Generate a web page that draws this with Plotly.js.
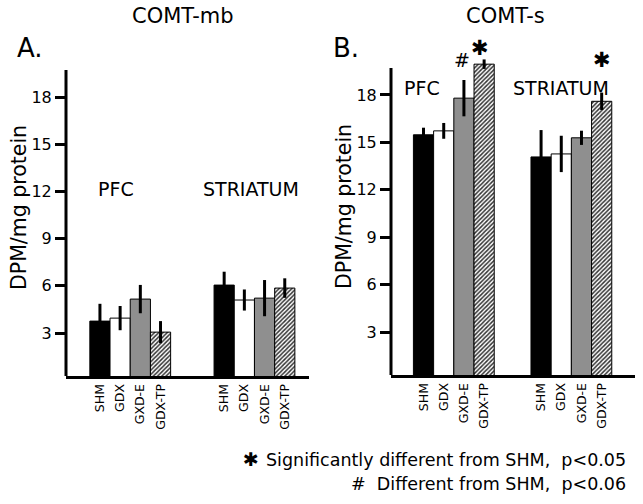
<!DOCTYPE html>
<html>
<head>
<meta charset="utf-8">
<script src="https://cdn.plot.ly/plotly-3.0.1.min.js"></script>
<style>html,body{margin:0;padding:0;background:#fff;}#chart{width:643px;height:504px;}</style>
</head>
<body>
<div id="chart"></div>
<script>
// ---- data ----
var treatments = ['SHM', 'GDX', 'GXD-E', 'GDX-TP'];
var regions = ['PFC', 'STRIATUM'];
var mbPFC = [3.76, 3.95, 5.16, 3.06];
var mbPFCerr = [1.1, 0.77, 0.9, 0.7];
var mbSTR = [6.05, 5.1, 5.22, 5.86];
var mbSTRerr = [0.85, 0.67, 1.15, 0.62];
var sPFC = [15.48, 15.73, 17.8, 19.95];
var sPFCerr = [0.45, 0.5, 1.15, 0.3];
var sSTR = [14.08, 14.27, 15.29, 17.6];
var sSTRerr = [1.7, 1.15, 0.45, 0.55];
var yTicks = [3, 6, 9, 12, 15, 18];

// ---- styles ----
var FONT = 'DejaVu Sans';
var fills = ['#000000', '#ffffff', '#8f8f8f', '#ffffff'];
var W = 643, H = 504;

function panelTraces(pfc, pfcErr, str, strErr, offset, xa, ya) {
  return treatments.map(function (t, i) {
    var m = {color: fills[i], line: {color: '#000', width: 1}};
    if (i === 3) m.pattern = {shape: '/', fgcolor: '#333', bgcolor: '#fff', size: 3, solidity: 0.5};
    return {
      type: 'bar', xaxis: xa, yaxis: ya, name: t,
      x: [i, offset + i], y: [pfc[i], str[i]], width: 1,
      marker: m, hoverinfo: 'skip',
      error_y: {type: 'data', array: [pfcErr[i], strErr[i]], width: 0, thickness: 3, color: '#000'}
    };
  });
}
var offA = 6.15, offB = 5.82;
var data = panelTraces(mbPFC, mbPFCerr, mbSTR, mbSTRerr, offA, 'x', 'y')
  .concat(panelTraces(sPFC, sPFCerr, sSTR, sSTRerr, offB, 'x2', 'y2'));

function tickPos(off) { return treatments.map(function (t, i) { return i; }).concat(treatments.map(function (t, i) { return off + i; })); }
var tickText = treatments.concat(treatments);

function xAxis(domain, range, off, anchor) {
  return {domain: domain, range: range, anchor: anchor, showline: true, linewidth: 3, linecolor: '#000',
    ticks: '', tickmode: 'array', tickvals: tickPos(off), ticktext: tickText, tickangle: -90,
    tickfont: {family: FONT, size: 12.5, color: '#000'}, showgrid: false, zeroline: false, fixedrange: true};
}
function yAxis(domain, range, anchor) {
  return {domain: domain, range: range, anchor: anchor, showline: false, ticks: 'outside', ticklen: 10,
    tickwidth: 3, tickcolor: '#000', tickmode: 'array', tickvals: yTicks,
    tickfont: {family: FONT, size: 16, color: '#000'}, showgrid: false, zeroline: false, fixedrange: true};
}

function ann(text, px, py, size, extra) {
  var a = {text: text, x: px / W, y: 1 - py / H, xref: 'paper', yref: 'paper', showarrow: false,
    xanchor: 'center', yanchor: 'middle', font: {family: FONT, size: size, color: '#000'}};
  for (var k in extra) a[k] = extra[k];
  return a;
}

var STAR = '\u2731';
var annotations = [
  ann('COMT-mb', 183, 16, 21),
  ann('COMT-s', 505, 16, 21),
  ann('A.', 30, 48, 26),
  ann('B.', 346, 48, 26),
  ann(regions[0], 116, 189, 19),
  ann(regions[1], 251, 189, 19),
  ann(regions[0], 422, 88, 19),
  ann(regions[1], 561, 88, 19),
  ann('DPM/mg protein', 19, 208, 20.5, {textangle: -90}),
  ann('DPM/mg protein', 344, 207, 20.5, {textangle: -90}),
  ann('#', 462, 60, 19),
  ann(STAR, 480, 48.5, 21),
  ann(STAR, 602, 60, 21),
  ann(STAR, 251, 459, 19),
  ann('Significantly different from SHM,\u00a0\u00a0p<0.05', 628, 460, 17.5, {xanchor: 'right'}),
  ann('#\u00a0\u00a0Different from SHM,\u00a0\u00a0p<0.06', 628, 484, 17.5, {xanchor: 'right'})
];

var shapes = [
  {type: 'line', xref: 'x domain', yref: 'y', x0: 0, x1: 0, y0: 0.27, y1: 19.72, line: {color: '#000', width: 3}},
  {type: 'line', xref: 'x2 domain', yref: 'y2', x0: 0, x1: 0, y0: 0.28, y1: 19.7, line: {color: '#000', width: 3}}
];

var layout = {
  width: W, height: H, margin: {l: 0, r: 0, t: 0, b: 0},
  paper_bgcolor: '#fff', plot_bgcolor: 'rgba(0,0,0,0)', showlegend: false, barmode: 'overlay',
  font: {family: FONT, color: '#000'},
  xaxis: xAxis([66 / W, 309 / W], [-1.68, 10.35], offA, 'y'),
  yaxis: yAxis([1 - 376 / H, 1 - 56.2 / H], [0.27, 20.6], 'x'),
  xaxis2: xAxis([391 / W, 635 / W], [-1.61, 10.47], offB, 'y2'),
  yaxis2: yAxis([1 - 375 / H, 1 - 53.9 / H], [0.28, 20.6], 'x2'),
  annotations: annotations, shapes: shapes
};

Plotly.newPlot('chart', data, layout, {staticPlot: true, displayModeBar: false});
</script>
</body>
</html>
